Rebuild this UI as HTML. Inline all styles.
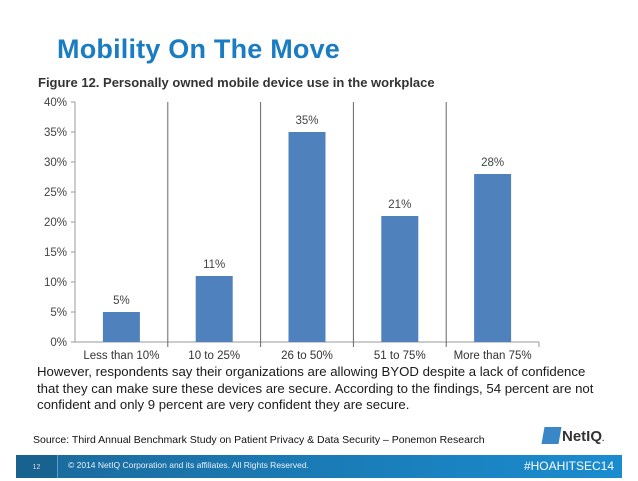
<!DOCTYPE html>
<html><head><meta charset="utf-8"><style>
body{margin:0;width:638px;height:479px;background:#fff;position:relative;overflow:hidden;font-family:"Liberation Sans",sans-serif}
.abs{position:absolute}
</style></head><body>
<div class="abs" style="left:57px;top:34px;font-size:27px;font-weight:bold;color:#1a7cc1;letter-spacing:0.2px">Mobility On The Move</div>
<div class="abs" style="left:38px;top:75px;font-size:13px;font-weight:bold;color:#333">Figure 12. Personally owned mobile device use in the workplace</div>
<svg class="abs" style="left:0;top:0" width="638" height="479">
<g id="g"></g></svg>
<div class="abs" style="left:37px;top:364px;font-size:13.2px;line-height:16.5px;color:#1a1a1a;width:560px">However, respondents say their organizations are allowing BYOD despite a lack of confidence that they can make sure these devices are secure. According to the findings, 54 percent are not confident and only 9 percent are very confident they are secure.</div>
<div class="abs" style="left:33px;top:434px;font-size:10.5px;color:#111">Source: Third Annual Benchmark Study on Patient Privacy &amp; Data Security – Ponemon Research</div>
<div class="abs" style="left:543px;top:427px;font-size:15px;font-weight:bold;color:#333"><span style="display:inline-block;width:17px;height:17px;background:#3a87c8;transform:skewX(-10deg);vertical-align:-3px;margin-right:2px"></span>NetIQ<span style="font-size:8px">.</span></div>
<div class="abs" style="left:16px;top:455px;width:606px;height:23px;background:linear-gradient(90deg,#1b6a9c,#1a8ccf)">
<div class="abs" style="left:0;top:0;width:41px;height:23px;background:#17628f;border-right:1px solid #5a9cc6;color:#dde;font-size:7px;text-align:center;line-height:26px">12</div>
<div class="abs" style="left:52px;top:5px;color:#e8f0f8;font-size:8.5px">© 2014 NetIQ Corporation and its affiliates.  All Rights Reserved.</div>
<div class="abs" style="right:8px;top:4px;color:#fff;font-size:12px">#HOAHITSEC14</div>
</div>
<script>
const categories=["Less than 10%","10 to 25%","26 to 50%","51 to 75%","More than 75%"];
const values=[5,11,35,21,28];
const tickLabels=["0%","5%","10%","15%","20%","25%","30%","35%","40%"];
const tickValues=[0,5,10,15,20,25,30,35,40];
const X0=75,CW=92.8,Y0=342,YMAX=40,PH=240;
const y=v=>Y0-v/YMAX*PH;
const x=i=>X0+i*CW;
const ns="http://www.w3.org/2000/svg",g=document.getElementById('g');
function mk(t,a){const e=document.createElementNS(ns,t);for(const k in a)e.setAttribute(k,a[k]);g.appendChild(e);return e;}
let ax=mk('line',{x1:X0,y1:y(YMAX),x2:X0,y2:Y0,stroke:'#999'});


let bx=mk('line',{x1:X0,y1:Y0,x2:x(categories.length),y2:Y0,stroke:'#999'});


tickValues.forEach((v,i)=>{
 mk('line',{x1:X0-4,y1:y(v),x2:X0,y2:y(v),stroke:'#999'});
 let t=mk('text',{x:X0-8,y:y(v)+4,'text-anchor':'end','font-size':11.5,fill:'#444'});
 t.textContent=tickLabels[i];
 
 
});
for(let i=1;i<categories.length;i++){
 let s=mk('line',{x1:x(i),y1:y(YMAX),x2:x(i),y2:Y0+5,stroke:'#666'});
 
 
}
mk('line',{x1:x(categories.length),y1:Y0,x2:x(categories.length),y2:Y0+5,stroke:'#999'});
categories.forEach((c,i)=>{
 const cx=x(i)+CW/2,bw=37;
 let r=mk('rect',{x:cx-bw/2,y:y(values[i]),width:bw,height:Y0-y(values[i]),fill:'#4f81bd'});
 
 
 let v=mk('text',{x:cx,y:y(values[i])-8,'text-anchor':'middle','font-size':11.5,fill:'#444'});
 v.textContent=values[i]+'%';
 
 
 let l=mk('text',{x:cx,y:Y0+17,'text-anchor':'middle','font-size':11.5,fill:'#333'});
 l.textContent=c;
 
 
});
</script>
</body></html>
